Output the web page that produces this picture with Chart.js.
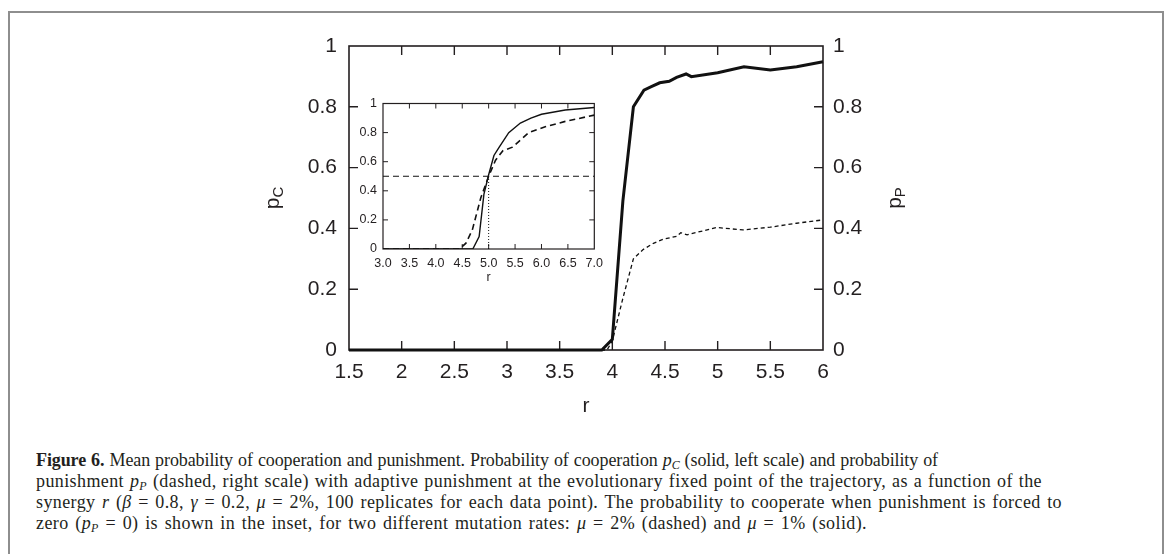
<!DOCTYPE html>
<html>
<head>
<meta charset="utf-8">
<script src="https://cdn.jsdelivr.net/npm/chart.js@4.4.1/dist/chart.umd.min.js"></script>
<style>
  html, body { margin: 0; padding: 0; background: #fff; }
  body { width: 1171px; height: 554px; position: relative; overflow: hidden; }
  #frame { position: absolute; left: 8px; top: 11px; width: 1152px; height: 600px;
           border: 2px solid #8e8e8e; border-bottom: none; }
  #main { position: absolute; left: 0; top: 0; }
  #inset { position: absolute; left: 340px; top: 90px; }
  #caption { position: absolute; left: 36px; top: 450px; color: #231f20;
             font-family: "Liberation Serif", "Times New Roman", serif; font-size: 18px;
             letter-spacing: 0.4px; line-height: 21px; }
  #caption div { white-space: nowrap; text-align: justify; text-align-last: justify; }
  #caption div.tight { letter-spacing: -0.1px; }
  #caption sub { font-size: 12px; vertical-align: -3px; line-height: 0; }
</style>
</head>
<body>
<div id="frame"></div>
<canvas id="main" width="1171" height="430"></canvas>
<canvas id="inset" width="270" height="200"></canvas>
<div id="caption">
  <div class="tight" style="width:902px"><b>Figure 6.</b> Mean probability of cooperation and punishment. Probability of cooperation <i>p<sub>C</sub></i> (solid, left scale) and probability of</div>
  <div style="width:1006px">punishment <i>p<sub>P</sub></i> (dashed, right scale) with adaptive punishment at the evolutionary fixed point of the trajectory, as a function of the</div>
  <div style="width:1026px">synergy <i>r</i> (<i>β</i> = 0.8, <i>γ</i> = 0.2, <i>μ</i> = 2%, 100 replicates for each data point). The probability to cooperate when punishment is forced to</div>
  <div style="width:831px">zero (<i>p<sub>P</sub></i> = 0) is shown in the inset, for two different mutation rates: <i>μ</i> = 2% (dashed) and <i>μ</i> = 1% (solid).</div>
</div>
<script>
// main panel: cooperation p_C (solid, left axis) and punishment p_P (dashed, right axis) vs synergy r
const rCoop = [1.5, 3.9, 4.0, 4.1, 4.2, 4.3, 4.37, 4.45, 4.54, 4.61, 4.7, 4.75, 5.0, 5.25, 5.5, 5.75, 6.0];
const pCoop = [0, 0, 0.035, 0.49, 0.80, 0.855, 0.866, 0.879, 0.884, 0.897, 0.908, 0.899, 0.912, 0.932, 0.921, 0.932, 0.948];
const rPun = [1.5, 3.95, 4.0, 4.1, 4.2, 4.29, 4.39, 4.48, 4.61, 4.65, 4.71, 4.99, 5.24, 5.5, 5.75, 6.0];
const pPun = [0, 0, 0.03, 0.17, 0.30, 0.33, 0.351, 0.364, 0.374, 0.386, 0.379, 0.403, 0.395, 0.404, 0.417, 0.428];

// inset: p_C with punishment switched off, two mutation rates
const rMu1 = [3.0, 4.7, 4.82, 4.91, 5.0, 5.1, 5.2, 5.38, 5.6, 5.8, 6.0, 6.45, 7.0];
const pMu1 = [0, 0, 0.085, 0.375, 0.51, 0.643, 0.70, 0.80, 0.866, 0.90, 0.926, 0.955, 0.973];
const rMu2 = [3.0, 4.45, 4.57, 4.69, 4.85, 5.0, 5.13, 5.27, 5.45, 5.76, 6.07, 6.45, 7.0];
const pMu2 = [0, 0, 0.04, 0.13, 0.35, 0.50, 0.61, 0.676, 0.70, 0.80, 0.84, 0.877, 0.92];
const halfLineR = [3.0, 7.0];
const halfLineP = [0.5, 0.5];
const markR = [5.0, 5.0];
const markP = [0, 0.5];

// tick labels
const mainXTicks = [1.5, 2, 2.5, 3, 3.5, 4, 4.5, 5, 5.5, 6];
const mainYTicks = [0, 0.2, 0.4, 0.6, 0.8, 1];
const insetXTicks = [3.0, 3.5, 4.0, 4.5, 5.0, 5.5, 6.0, 6.5, 7.0];
const insetYTicks = [0, 0.2, 0.4, 0.6, 0.8, 1];

const INK = '#231f20';
const SANS = '"Liberation Sans", Arial, Helvetica, sans-serif';
Chart.defaults.color = INK;
Chart.defaults.font.family = SANS;

const pts = (xs, ys) => xs.map((x, i) => ({ x: x, y: ys[i] }));
const useTicks = list => scale => { scale.ticks = list.map(v => ({ value: v })); };
const noGrid = { display: false, drawTicks: false };

// gnuplot style frame with ticks pointing inwards
const frameTicks = {
    id: 'frameTicks',
    beforeDatasetsDraw(chart, args, opts) {
        const { ctx, chartArea: a } = chart;
        const len = opts.length;
        ctx.save();
        ctx.strokeStyle = INK;
        ctx.lineWidth = opts.lineWidth;
        ctx.beginPath();
        const xs = chart.scales.x;
        xs.ticks.forEach(t => {
            const px = xs.getPixelForValue(t.value);
            if (px < a.left + 1 || px > a.right - 1) return;
            ctx.moveTo(px, a.bottom); ctx.lineTo(px, a.bottom - len);
            ctx.moveTo(px, a.top); ctx.lineTo(px, a.top + len);
        });
        const ys = chart.scales.y;
        ys.ticks.forEach(t => {
            const py = ys.getPixelForValue(t.value);
            if (py < a.top + 1 || py > a.bottom - 1) return;
            ctx.moveTo(a.left, py); ctx.lineTo(a.left + len, py);
            ctx.moveTo(a.right, py); ctx.lineTo(a.right - len, py);
        });
        ctx.stroke();
        ctx.lineWidth = opts.frameWidth;
        ctx.strokeRect(a.left, a.top, a.right - a.left, a.bottom - a.top);
        ctx.restore();
    }
};

// axis titles with subscripts (p_C, p_P, r)
function subText(ctx, base, sub, x, y, size, rotate) {
    ctx.save();
    ctx.translate(x, y);
    if (rotate) ctx.rotate(-Math.PI / 2);
    ctx.font = size + 'px ' + SANS;
    const wb = ctx.measureText(base).width;
    ctx.font = Math.round(size * 0.7) + 'px ' + SANS;
    const ws = sub ? ctx.measureText(sub).width : 0;
    const x0 = -(wb + ws) / 2;
    ctx.fillStyle = INK;
    ctx.textBaseline = 'alphabetic';
    ctx.font = size + 'px ' + SANS;
    ctx.fillText(base, x0, size * 0.25);
    if (sub) {
        ctx.font = Math.round(size * 0.7) + 'px ' + SANS;
        ctx.fillText(sub, x0 + wb, size * 0.25 + size * 0.2);
    }
    ctx.restore();
}

const axisTitles = {
    id: 'axisTitles',
    afterDraw(chart, args, opts) {
        const { ctx, chartArea: a } = chart;
        const cx = (a.left + a.right) / 2, cy = (a.top + a.bottom) / 2;
        subText(ctx, 'r', '', cx, a.bottom + opts.xGap, opts.size, false);
        if (opts.left) subText(ctx, 'p', opts.left, a.left - opts.leftGap, cy, opts.size, true);
        if (opts.right) subText(ctx, 'p', opts.right, a.right + opts.rightGap, cy, opts.size, true);
    }
};

new Chart(document.getElementById('main'), {
    type: 'line',
    data: {
        datasets: [
            {
                label: 'p_C',
                data: pts(rCoop, pCoop),
                borderColor: '#111',
                borderWidth: 3,
                pointRadius: 0,
                tension: 0,
                clip: 4,
                yAxisID: 'y'
            },
            {
                label: 'p_P',
                data: pts(rPun, pPun),
                borderColor: '#111',
                borderWidth: 1.3,
                borderDash: [4, 3],
                pointRadius: 0,
                tension: 0,
                clip: 4,
                yAxisID: 'y1'
            }
        ]
    },
    options: {
        responsive: false,
        animation: false,
        devicePixelRatio: 1,
        layout: { padding: { left: 250, right: 250, top: 46, bottom: 0 } },
        scales: {
            x: {
                type: 'linear', min: 1.5, max: 6,
                afterBuildTicks: useTicks(mainXTicks),
                afterFit: s => { s.height = 80; },
                grid: noGrid, border: { display: false },
                ticks: { font: { size: 21 }, padding: 10, maxRotation: 0, autoSkip: false,
                         callback: v => String(v) }
            },
            y: {
                position: 'left', min: 0, max: 1,
                afterBuildTicks: useTicks(mainYTicks),
                afterFit: s => { s.width = 99; },
                grid: noGrid, border: { display: false },
                ticks: { font: { size: 21 }, padding: 12, callback: v => String(v) }
            },
            y1: {
                position: 'right', min: 0, max: 1,
                afterBuildTicks: useTicks(mainYTicks),
                afterFit: s => { s.width = 98; },
                grid: noGrid, border: { display: false },
                ticks: { font: { size: 21 }, padding: 10, callback: v => String(v) }
            }
        },
        plugins: {
            legend: { display: false },
            tooltip: { enabled: false },
            frameTicks: { length: 9, lineWidth: 1.4, frameWidth: 1.6 },
            axisTitles: { size: 21, xGap: 57, leftGap: 75, rightGap: 73, left: 'C', right: 'P' }
        }
    },
    plugins: [frameTicks, axisTitles]
});

new Chart(document.getElementById('inset'), {
    type: 'line',
    data: {
        datasets: [
            {
                label: 'mu = 1%',
                data: pts(rMu1, pMu1),
                borderColor: '#111',
                borderWidth: 1.4,
                pointRadius: 0,
                tension: 0
            },
            {
                label: 'mu = 2%',
                data: pts(rMu2, pMu2),
                borderColor: '#111',
                borderWidth: 1.6,
                borderDash: [6, 4],
                pointRadius: 0,
                tension: 0
            },
            {
                label: 'p = 0.5',
                data: pts(halfLineR, halfLineP),
                borderColor: '#111',
                borderWidth: 1,
                borderDash: [6, 4],
                pointRadius: 0
            },
            {
                label: 'r = 5',
                data: pts(markR, markP),
                borderColor: '#111',
                borderWidth: 1,
                borderDash: [1, 2],
                pointRadius: 0
            }
        ]
    },
    options: {
        responsive: false,
        animation: false,
        devicePixelRatio: 1,
        layout: { padding: { left: 0, right: 14, top: 10, bottom: 0 } },
        scales: {
            x: {
                type: 'linear', min: 3, max: 7,
                afterBuildTicks: useTicks(insetXTicks),
                afterFit: s => { s.height = 41; },
                grid: noGrid, border: { display: false },
                ticks: { font: { size: 12.5 }, padding: 7, maxRotation: 0, autoSkip: false,
                         callback: v => v.toFixed(1) }
            },
            y: {
                min: 0, max: 1,
                afterBuildTicks: useTicks(insetYTicks),
                afterFit: s => { s.width = 43; },
                grid: noGrid, border: { display: false },
                ticks: { font: { size: 12.5 }, padding: 6, callback: v => String(v) }
            }
        },
        plugins: {
            legend: { display: false },
            tooltip: { enabled: false },
            frameTicks: { length: 5, lineWidth: 1, frameWidth: 1.2 },
            axisTitles: { size: 12.5, xGap: 29, leftGap: 0, rightGap: 0 }
        }
    },
    plugins: [frameTicks, axisTitles]
});
</script>
</body>
</html>
